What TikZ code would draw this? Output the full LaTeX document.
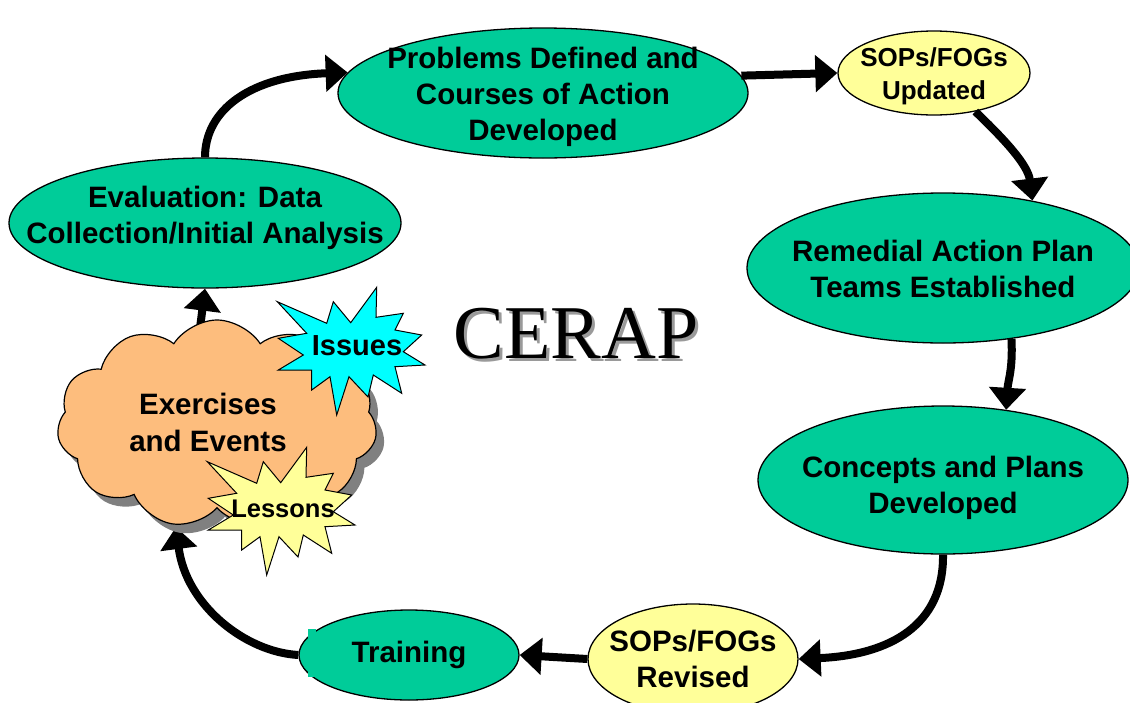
\documentclass[tikz,border=0pt]{standalone}
\usepackage{fontspec}
\setmainfont{Liberation Sans}
\newfontfamily\cerapfont{Liberation Serif}
\usetikzlibrary{shapes.geometric,shapes.symbols,arrows.meta}
\definecolor{ngreen}{RGB}{0,204,153}
\definecolor{nyellow}{RGB}{255,255,153}
\definecolor{ncyan}{RGB}{0,255,255}
\definecolor{npeach}{RGB}{253,189,125}
\definecolor{nshadow}{RGB}{128,128,128}
\tikzset{
  stage/.style={ellipse, draw=black, line width=1.3pt, fill=ngreen, inner sep=0pt},
  sopbox/.style={stage, fill=nyellow},
  lbl/.style={font=\bfseries\fontsize{29.5}{36}\selectfont, align=center, inner sep=0pt},
  flow/.style={line width=8pt, -{Triangle[length=22pt,width=36pt]}},
  burstline/.style={draw=black, line width=1pt},
  pics/burstshape/.style={code={
    \path[pic actions] (-74.7,-48.3) -- (-25.3,-26.7) -- (-18.7,-48.3) -- (-1.3,-27.3)
      -- (24.7,-62.7) -- (24,-32.7) -- (51.3,-36.7) -- (43,-20) -- (69.7,-15)
      -- (51.3,1.7) -- (73,15) -- (43,16.7) -- (49.7,43.3) -- (21.3,25) -- (16,47)
      -- (-3,26.7) -- (-15.3,65) -- (-22,26.7) -- (-40.3,40) -- (-40.3,20)
      -- (-73.7,20) -- (-48.7,5) -- (-73.7,-11.7) -- (-45.3,-16.7) -- cycle;
  }},
}
\begin{document}
\begin{tikzpicture}[x=1pt,y=-1pt]
\useasboundingbox (0,0) rectangle (1130,702);

% stages
\node[stage, minimum width=410pt, minimum height=130pt,
      label={[lbl,yshift=-4pt]center:{Problems Defined and\\Courses of Action\\Developed}}] (prob) at (543,93) {};
\node[sopbox, minimum width=192pt, minimum height=84pt,
      label={[lbl,yshift=-3pt,font=\bfseries\fontsize{26}{33}\selectfont]center:{SOPs/FOGs\\Updated}}] (sopU) at (934,73) {};
\node[stage, minimum width=392pt, minimum height=150pt,
      label={[lbl,yshift=-1pt]center:{Remedial Action Plan\\Teams Established}}] (rem) at (943,268) {};
\node[stage, minimum width=370pt, minimum height=148pt,
      label={[lbl,yshift=-8pt]center:{Concepts and Plans\\Developed}}] (conc) at (943,480) {};
\node[sopbox, minimum width=210pt, minimum height=110pt,
      label={[lbl]center:{SOPs/FOGs\\Revised}}] (sopR) at (693,659) {};
\node[stage, minimum width=220pt, minimum height=90pt,
      label={[lbl]center:{Training}}] (train) at (409,655) {};
\fill[ngreen] (308,629) rectangle (316,677);
\node[stage, minimum width=392pt, minimum height=130pt,
      label={[lbl,yshift=5pt]center:{Evaluation: Data\\Collection/Initial Analysis}}] (eval) at (205,223) {};

% connectors
\coordinate (cloudtop) at (199,336);
\coordinate (cloudbot) at (176,527);
\draw[flow] (cloudtop) -- (eval.south);
\draw[flow] (eval.north) .. controls (205,110) and (250,76) .. (prob.174);
\draw[flow] (prob.5) -- (sopU.west);
\draw[flow] (sopU.-43) .. controls (1005,140) and (1028,165) .. (rem.37);
\draw[flow] (rem.-46) .. controls (1013,370) and (1008,380) .. (conc.48);
\draw[flow] (conc.south) .. controls (944,625) and (890,655) .. (sopR.east);
\draw[flow] (sopR.west) -- (train.east);
\draw[flow] (train.west) .. controls (245,652) and (186,605) .. (cloudbot);

% cloud
\node[cloud, cloud puffs=11, cloud puff arc=115, aspect=1.5, minimum width=320pt, minimum height=208pt,
      fill=nshadow, inner sep=0pt] (cloudsh) at (225,433) {};
\node[cloud, cloud puffs=11, cloud puff arc=115, aspect=1.5, minimum width=320pt, minimum height=208pt,
      fill=npeach, draw=black, line width=1.2pt, inner sep=0pt] (cloud) at (217,424) {};
\node[lbl, font=\bfseries\fontsize{29.5}{37}\selectfont] (ex) at (208,422) {Exercises\\and Events};

% bursts
\pic[burstline, fill=ncyan] at (352,350) {burstshape};
\node[lbl, font=\bfseries\fontsize{29}{36}\selectfont] (iss) at (357,346) {Issues};
\pic[burstline, fill=nyellow] at (282,510) {burstshape};
\node[lbl, font=\bfseries\fontsize{25.5}{30}\selectfont] (les) at (283,509) {Lessons};

% title
\node[anchor=base, inner sep=0pt, text=nshadow!80, font=\cerapfont\fontsize{76}{76}\selectfont] (cerapsh) at (579,361) {CERAP};
\node[anchor=base, inner sep=0pt, font=\cerapfont\fontsize{76}{76}\selectfont] (cerap) at (576,358) {CERAP};
\end{tikzpicture}
\end{document}
